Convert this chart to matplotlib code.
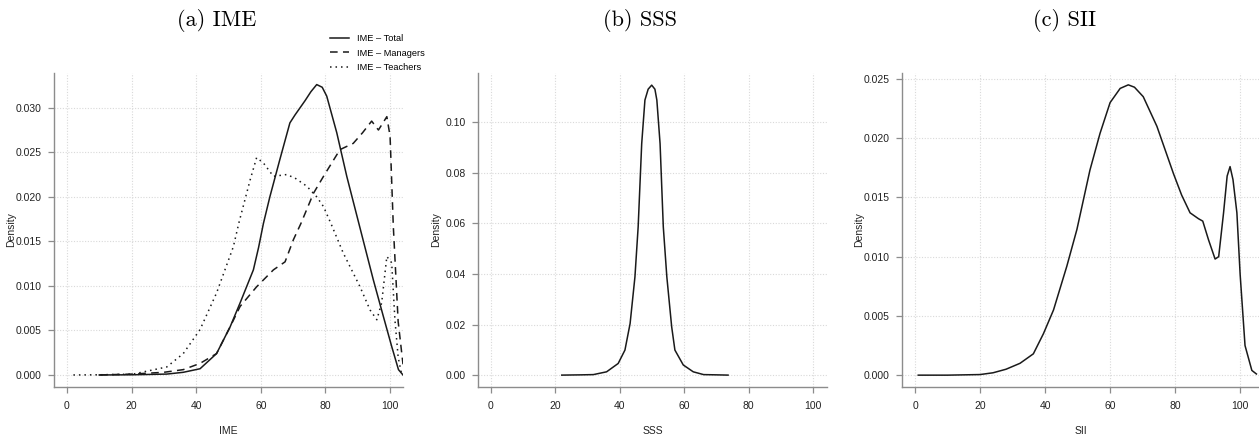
import matplotlib
matplotlib.use("Agg")
import matplotlib.pyplot as plt
from matplotlib.ticker import FormatStrFormatter

# ── data ────────────────────────────────────────────────────────────────────
ime_total_x = [10, 20, 30.9, 36, 41.2, 46.3, 50.5, 53.6, 57.7, 59.3, 60.8, 62.8,
               65.9, 69.0, 70.6, 73.7, 75.5, 77.3, 79.0, 80.4, 83.5, 86.6, 90.7,
               94.8, 97.9, 100.5, 102.6, 104]
ime_total_y = [0, 0.00002, 0.0001, 0.0003, 0.0007, 0.0024, 0.0054, 0.0081, 0.0118,
               0.0143, 0.0170, 0.0200, 0.0242, 0.0283, 0.0292, 0.0308, 0.0318,
               0.0326, 0.0323, 0.0313, 0.0272, 0.0223, 0.0165, 0.0107, 0.0066,
               0.0032, 0.0006, 0.0]

ime_mgr_x = [10, 20, 30, 36, 41.2, 46.3, 50.5, 53.6, 58.7, 63.9, 67.5, 70.1, 72.4,
             76.3, 79.4, 84.5, 88.6, 91.5, 94.3, 96.4, 99.0, 100, 101, 102.5, 104]
ime_mgr_y = [0, 0.0001, 0.0003, 0.0006, 0.0013, 0.0024, 0.0054, 0.0077, 0.0099,
             0.0118, 0.0127, 0.0152, 0.0170, 0.0204, 0.0223, 0.0253, 0.0260,
             0.0272, 0.0285, 0.0275, 0.0290, 0.0268, 0.0167, 0.0060, 0.0012]

ime_tch_x = [2, 10, 20.5, 30.9, 36, 41.2, 46.3, 51.5, 53.3, 56.7, 58.7, 60.8, 63.9,
             68.0, 70.6, 74.2, 77.3, 79.4, 81.7, 85.5, 90.7, 93.8, 95.9, 97.4,
             99.0, 100.5, 101.5, 102.5, 103.5]
ime_tch_y = [0, 0.00002, 0.0001, 0.0009, 0.0024, 0.0051, 0.0092, 0.0144, 0.0172,
             0.0219, 0.0244, 0.0238, 0.0223, 0.0225, 0.0221, 0.0212, 0.0200,
             0.0189, 0.0170, 0.0137, 0.0099, 0.0073, 0.0062, 0.0081, 0.0133,
             0.0126, 0.0062, 0.0020, 0.0002]

sss_x = [22, 28, 31.8, 35.9, 39.5, 41.6, 43.2, 44.7, 45.7, 46.8, 47.8, 48.8, 49.9,
         50.9, 51.5, 52.5, 53.5, 54.6, 56.1, 57.1, 59.7, 62.8, 66, 70, 73.6]
sss_y = [0, 0.0001, 0.0002, 0.0013, 0.0046, 0.0099, 0.0204, 0.0388, 0.0586, 0.0915,
         0.1087, 0.1130, 0.1146, 0.1130, 0.1087, 0.0915, 0.0586, 0.0388, 0.0191,
         0.0099, 0.0040, 0.0013, 0.0002, 0.0001, 0]

sii_x = [1, 10, 20, 24, 28, 32.3, 36.4, 39.5, 42.6, 46.7, 49.8, 51.8, 53.8, 56.9,
         60, 63.1, 65.6, 67.5, 70.2, 74.4, 79.5, 82, 84.6, 87.2, 88.5, 90.3, 92.3,
         93.4, 94.9, 96.0, 96.9, 97.8, 99.0, 100, 101.5, 103.6, 105]
sii_y = [0, 0, 0.00005, 0.0002, 0.0005, 0.0010, 0.0018, 0.0035, 0.0055, 0.0092,
         0.0123, 0.0148, 0.0173, 0.0204, 0.0230, 0.0242, 0.0245, 0.0243, 0.0235,
         0.0210, 0.0170, 0.0152, 0.0137, 0.0132, 0.0130, 0.0114, 0.0098, 0.0100,
         0.0137, 0.0168, 0.0176, 0.0165, 0.0137, 0.0085, 0.0025, 0.0004, 0.0001]

titles = ["(a) IME", "(b) SSS", "(c) SII"]
xlabels = ["IME", "SSS", "SII"]
legend_labels = ["IME – Total", "IME – Managers", "IME – Teachers"]
x_ticks = [0, 20, 40, 60, 80, 100]
# ────────────────────────────────────────────────────────────────────────────

W, H = 1259, 436
SPINE_COLOR = "#8c8c8c"
GRID_COLOR = "#d9d9d9"
LINE_COLOR = "#1a1a1a"
LW = 1.1

fig = plt.figure(figsize=(W / 100, H / 100), dpi=100)
plt.rcParams["font.family"] = ["Liberation Sans", "DejaVu Sans"]

# axes boxes in pixels: left, right, top, bottom
boxes = [(54, 403, 73, 387), (478, 827, 73, 387), (902, 1259, 73, 387)]
ylabel_px = [16, 441, 864]   # right edge of the rotated "Density"
title_x = [217, 640, 1065]

axes = []
for (l, r, t, b) in boxes:
    axes.append(fig.add_axes([l / W, 1 - b / H, (r - l) / W, (b - t) / H]))
ax_a, ax_b, ax_c = axes

ax_a.plot(ime_total_x, ime_total_y, color=LINE_COLOR, lw=LW, ls="-", label=legend_labels[0])
ax_a.plot(ime_mgr_x, ime_mgr_y, color=LINE_COLOR, lw=LW, ls=(0, (5, 3.5)), label=legend_labels[1])
ax_a.plot(ime_tch_x, ime_tch_y, color=LINE_COLOR, lw=LW, ls=(0, (1, 2.6)), label=legend_labels[2])
ax_b.plot(sss_x, sss_y, color=LINE_COLOR, lw=LW)
ax_c.plot(sii_x, sii_y, color=LINE_COLOR, lw=LW)

ax_a.set_ylim(-0.00135, 0.0339)
ax_a.set_yticks([0, 0.005, 0.010, 0.015, 0.020, 0.025, 0.030])
ax_a.yaxis.set_major_formatter(FormatStrFormatter("%.3f"))
ax_a.set_xlim(-4, 104)

ax_b.set_ylim(-0.0047, 0.1194)
ax_b.set_yticks([0, 0.02, 0.04, 0.06, 0.08, 0.10])
ax_b.yaxis.set_major_formatter(FormatStrFormatter("%.2f"))
ax_b.set_xlim(-4, 104.3)

ax_c.set_ylim(-0.001, 0.0255)
ax_c.set_yticks([0, 0.005, 0.010, 0.015, 0.020, 0.025])
ax_c.yaxis.set_major_formatter(FormatStrFormatter("%.3f"))
ax_c.set_xlim(-4, 105.8)

for ax, t, xl, tx, yl, box in zip(axes, titles, xlabels, title_x, ylabel_px, boxes):
    ax.set_xticks(x_ticks)
    ax.grid(True, ls=(0, (1, 1.5)), color=GRID_COLOR, lw=0.8)
    ax.set_axisbelow(True)
    for side in ["top", "right"]:
        ax.spines[side].set_visible(False)
    for side in ["left", "bottom"]:
        ax.spines[side].set_color(SPINE_COLOR)
        ax.spines[side].set_linewidth(1.0)
    ax.tick_params(axis="both", direction="out", length=4, width=0.9,
                   color=SPINE_COLOR, labelsize=7.5, labelcolor="#222222", pad=5)
    ax.tick_params(axis="x", pad=6)
    ax.set_xlabel(xl, fontsize=7.5, color="#222222", labelpad=11)
    ax.set_ylabel("Density", fontsize=7.5, color="#222222")
    ax.yaxis.set_label_coords((yl - box[0]) / (box[1] - box[0]), 0.5)
    fig.text(tx / W, 1 - 20 / H, t, ha="center", va="center",
             family="cmr10", fontsize=16)

ax_a.legend(loc="upper left", bbox_to_anchor=(330 / W, 1 - 34 / H),
            bbox_transform=fig.transFigure, frameon=False, fontsize=6.7,
            handlelength=2.0, handletextpad=0.9, labelspacing=0.6,
            borderpad=0, borderaxespad=0)

fig.savefig("out.png", dpi=100)
